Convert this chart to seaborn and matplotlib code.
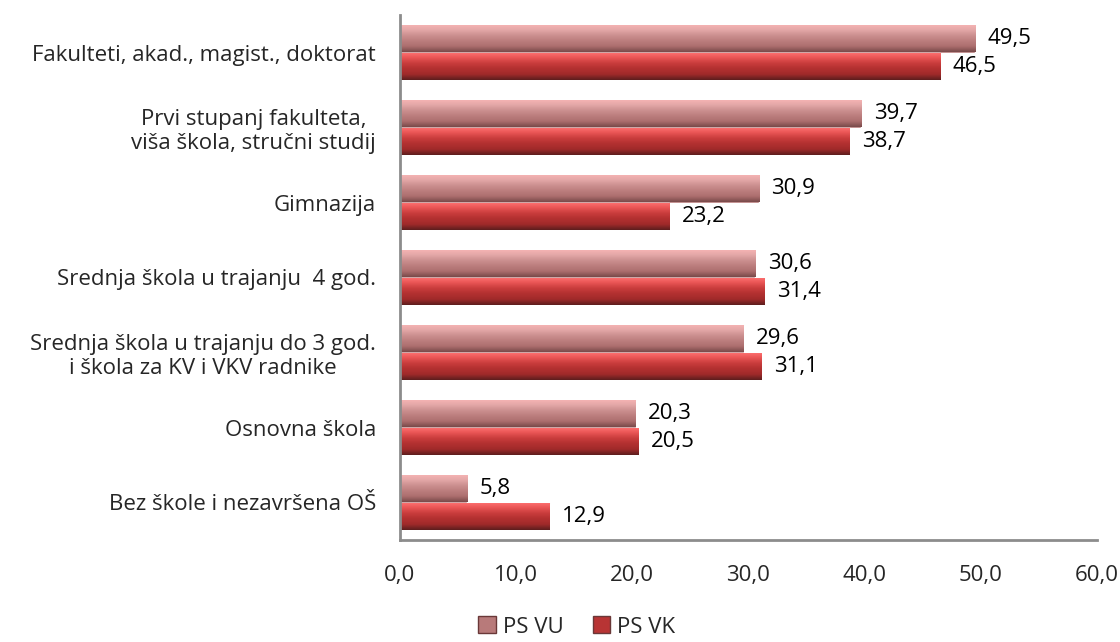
import numpy as np
import pandas as pd
import matplotlib
matplotlib.use("Agg")
import matplotlib.pyplot as plt
import matplotlib.patches as mpatches
from matplotlib.colors import LinearSegmentedColormap
import seaborn as sns

# data
categories = [
    "Fakulteti, akad., magist., doktorat",
    "Prvi stupanj fakulteta,\nviša škola, stručni studij",
    "Gimnazija",
    "Srednja škola u trajanju  4 god.",
    "Srednja škola u trajanju do 3 god.\ni škola za KV i VKV radnike",
    "Osnovna škola",
    "Bez škole i nezavršena OŠ",
]
ps_vu = [49.5, 39.7, 30.9, 30.6, 29.6, 20.3, 5.8]
ps_vk = [46.5, 38.7, 23.2, 31.4, 31.1, 20.5, 12.9]
series = ["PS VU", "PS VK"]
x_ticks = [0, 10, 20, 30, 40, 50, 60]

df = pd.DataFrame({
    "cat": categories * 2,
    "val": ps_vu + ps_vk,
    "serie": [series[0]] * len(categories) + [series[1]] * len(categories),
})

sns.set_style("white")
plt.rcParams["font.family"] = ["Open Sans", "DejaVu Sans"]

colors = {"PS VU": "#B87A7A", "PS VK": "#B83434"}
grads = {
    "PS VU": ["#F7B4B4", "#E4A8A8", "#CC9090", "#BC7E7E", "#AC6E6E", "#7A4A4A"],
    "PS VK": ["#FF7272", "#E85454", "#C83C3C", "#B23030", "#A02A2A", "#5E1E1E"],
}

fig = plt.figure(figsize=(11.2, 6.42), dpi=100)
ax = fig.add_axes([0.357, 1 - 540 / 642, 1097 / 1120 - 0.357, (540 - 15) / 642])

sns.barplot(data=df, y="cat", x="val", hue="serie", hue_order=series,
            palette=colors, orient="h", width=0.73, ax=ax, legend=False,
            saturation=1)

# gradient fill for each bar
for container, name in zip(ax.containers, series):
    cmap = LinearSegmentedColormap.from_list(name, grads[name])
    for p in container:
        x0, y0 = p.get_x(), p.get_y()
        w, h = p.get_width(), p.get_height()
        grad = np.linspace(0, 1, 64).reshape(-1, 1)
        im = ax.imshow(grad, cmap=cmap, aspect="auto",
                       extent=[x0, x0 + w, y0 + h, y0], zorder=p.get_zorder() + 0.1)
        im.set_clip_path(p)
    ax.bar_label(container, fmt=lambda v: f"{v:.1f}".replace(".", ","),
                 padding=9, fontsize=16, color="#000000")

ax.set_xlim(0, 60)
ax.set_ylim(len(categories) - 0.5, -0.5)
ax.set_xticks(x_ticks)
ax.set_xticklabels([f"{t:.1f}".replace(".", ",") for t in x_ticks], fontsize=16)
ax.tick_params(axis="x", length=0, pad=18)
ax.tick_params(axis="y", length=0, pad=17, labelsize=16)
for lbl in ax.get_yticklabels():
    lbl.set_multialignment("center")
ax.set_xlabel("")
ax.set_ylabel("")

for s in ["top", "right"]:
    ax.spines[s].set_visible(False)
for s in ["left", "bottom"]:
    ax.spines[s].set_color("#8C8C8C")
    ax.spines[s].set_linewidth(2)

handles = [mpatches.Patch(facecolor=colors[s], edgecolor="#6a3838", label=s) for s in series]
fig.legend(handles=handles, loc="center", bbox_to_anchor=(0.515, 1 - 627 / 642), ncol=2,
           frameon=False, fontsize=16, handlelength=0.8, handleheight=0.8,
           handletextpad=0.3, columnspacing=1.3, borderaxespad=0, borderpad=0)

fig.savefig("out.png", dpi=100)
